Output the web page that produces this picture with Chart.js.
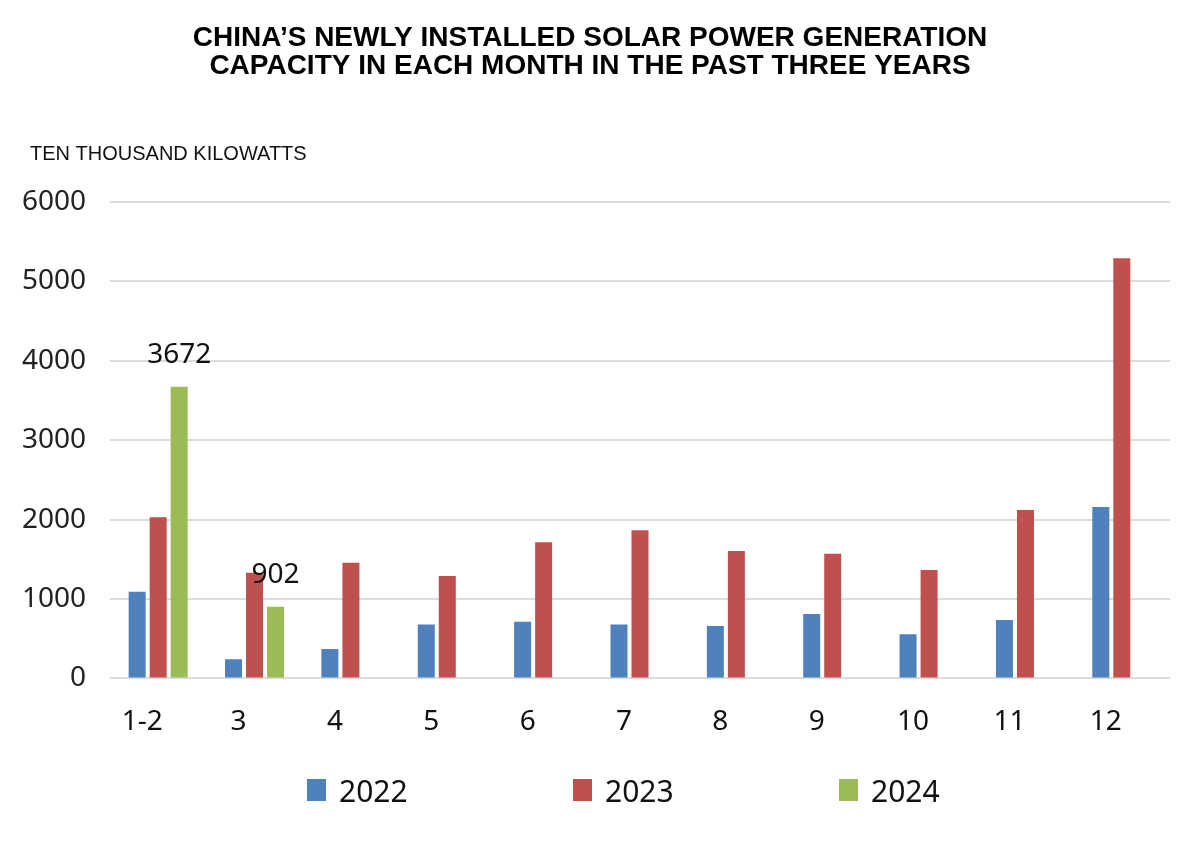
<!DOCTYPE html>
<html>
<head>
<meta charset="utf-8">
<title>China solar capacity by month</title>
<script src="https://cdn.jsdelivr.net/npm/chart.js@4.4.1/dist/chart.umd.min.js"></script>
<style>
  html, body { margin: 0; padding: 0; background: #fff; }
  #wrap { position: relative; width: 1200px; height: 857px; }
  #legend {
    position: absolute; left: 307px; top: 778px;
    display: flex; font-family: "Noto Sans", sans-serif; font-size: 30px; color: #111;
  }
  .item { width: 266px; display: flex; align-items: center; height: 24px; }
  .box { width: 19px; height: 22px; margin-right: 13px; }
</style>
</head>
<body>
<div id="wrap">
  <canvas id="chart"></canvas>
  <div id="legend"></div>
</div>
<script>
// ---- data ----
const months = ["1-2", "3", "4", "5", "6", "7", "8", "9", "10", "11", "12"];
const values2022 = [1090, 240, 370, 680, 715, 680, 660, 810, 555, 735, 2160];
const values2023 = [2030, 1330, 1455, 1290, 1715, 1865, 1605, 1570, 1365, 2120, 5290];
const values2024 = [3672, 902, null, null, null, null, null, null, null, null, null];
const yTicks = [0, 1000, 2000, 3000, 4000, 5000, 6000];

const seriesNames = ["2022", "2023", "2024"];
const seriesColors = ["#4f81bd", "#c0504d", "#9bbb59"];
const unitText = "TEN THOUSAND KILOWATTS";

// labels on top of the 2024 bars
const barValueLabels = {
  id: "barValueLabels",
  afterDatasetsDraw(chart) {
    const ctx = chart.ctx;
    const meta = chart.getDatasetMeta(2);
    ctx.save();
    ctx.font = "28px 'Noto Sans', sans-serif";
    ctx.fillStyle = "#111";
    ctx.textAlign = "center";
    ctx.textBaseline = "middle";
    meta.data.forEach((bar, i) => {
      const v = chart.data.datasets[2].data[i];
      if (v == null) return;
      ctx.fillText(String(v), bar.x, bar.y - 32);
    });
    ctx.restore();
  }
};

// unit text above the y axis
const unitLabel = {
  id: "unitLabel",
  afterDraw(chart) {
    const ctx = chart.ctx;
    ctx.save();
    ctx.font = "20px 'Liberation Sans', Arial, sans-serif";
    ctx.fillStyle = "#111";
    ctx.textAlign = "left";
    ctx.textBaseline = "alphabetic";
    ctx.fillText(unitText, 30, 160);
    ctx.restore();
  }
};

const ctx = document.getElementById("chart").getContext("2d");
const chart = new Chart(ctx, {
  type: "bar",
  data: {
    labels: months,
    datasets: [values2022, values2023, values2024].map((d, i) => ({
      label: seriesNames[i],
      data: d,
      backgroundColor: seriesColors[i],
      categoryPercentage: 0.654,
      barPercentage: 0.81
    }))
  },
  options: {
    responsive: true,
    maintainAspectRatio: false,
    animation: false,
    layout: { padding: { left: 10, right: 30, top: 0, bottom: 99 } },
    plugins: {
      legend: { display: false },
      tooltip: { enabled: false },
      title: {
        display: true,
        text: ["CHINA\u2019S NEWLY INSTALLED SOLAR POWER GENERATION", "CAPACITY IN EACH MONTH IN THE PAST THREE YEARS"],
        color: "#000",
        font: { family: "'Liberation Sans', Arial, sans-serif", size: 28, weight: "bold", lineHeight: 1 },
        padding: { top: 24, bottom: 122 }
      }
    },
    scales: {
      x: {
        grid: { display: false },
        border: { display: false },
        ticks: {
          color: "#111",
          font: { family: "'Noto Sans', sans-serif", size: 28 },
          padding: 19,
          labelOffset: -16,
          maxRotation: 0
        }
      },
      y: {
        min: 0,
        max: 6000,
        afterFit(scale) { scale.width = 100; },
        afterBuildTicks(scale) { scale.ticks = yTicks.map(v => ({ value: v })); },
        grid: { color: "#dcdcdc", lineWidth: 2, drawTicks: false },
        border: { display: false },
        ticks: {
          color: "#222",
          font: { family: "'Noto Sans', sans-serif", size: 28 },
          padding: 24,
          callback: v => String(v)
        }
      }
    }
  },
  plugins: [barValueLabels, unitLabel]
});

// html legend
const legendDiv = document.getElementById("legend");
chart.data.datasets.forEach(ds => {
  const item = document.createElement("div");
  item.className = "item";
  const box = document.createElement("span");
  box.className = "box";
  box.style.background = ds.backgroundColor;
  const txt = document.createElement("span");
  txt.textContent = ds.label;
  item.appendChild(box);
  item.appendChild(txt);
  legendDiv.appendChild(item);
});
</script>
</body>
</html>
